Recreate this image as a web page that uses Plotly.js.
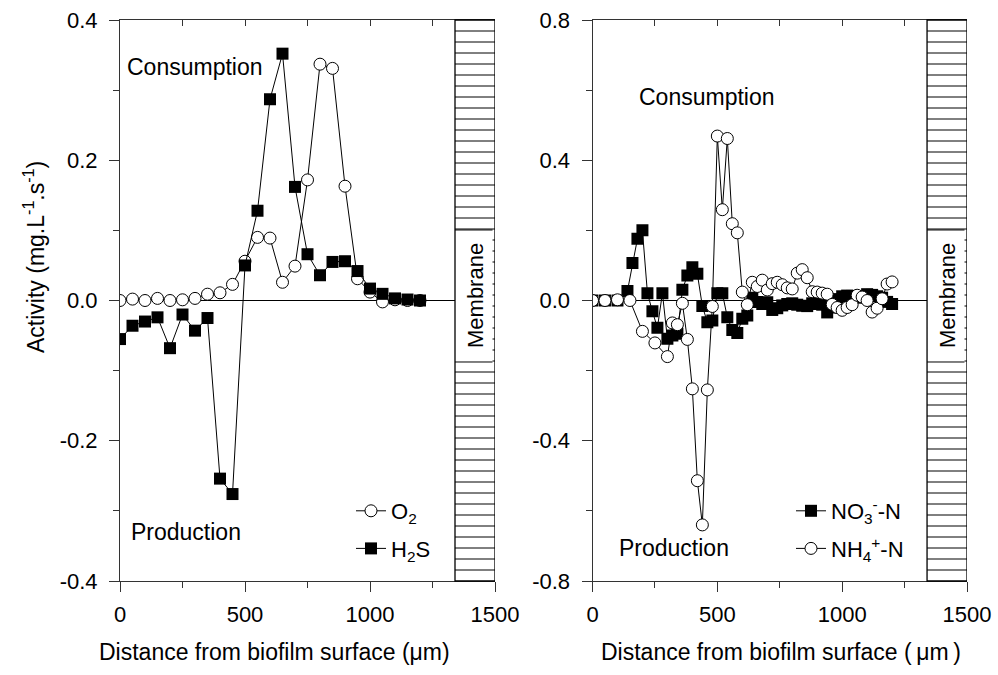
<!DOCTYPE html>
<html><head><meta charset="utf-8">
<script src="https://cdn.plot.ly/plotly-3.0.1.min.js"></script>
<style>html,body{margin:0;padding:0;background:#fff}#chart{width:998px;height:675px}</style>
</head><body><div id="chart"></div>
<script>
// ---- Left panel data (O2 / H2S) ----
const xLeft = [0,50,100,150,200,250,300,350,400,450,500,550,600,650,700,750,800,850,900,950,1000,1050,1100,1150,1200];
const o2 = [0.000,0.002,0.000,0.003,0.000,0.001,0.003,0.009,0.011,0.023,0.056,0.090,0.089,0.026,0.049,0.172,0.337,0.331,0.163,0.031,0.012,-0.002,0.001,0.000,0.000];
const h2s = [-0.055,-0.036,-0.030,-0.024,-0.068,-0.020,-0.043,-0.025,-0.254,-0.276,0.050,0.128,0.287,0.352,0.162,0.066,0.036,0.055,0.056,0.042,0.017,0.0095,0.003,0.0014,0.000];

// ---- Right panel data (NO3- / NH4+) ----
const xNO3 = [0,50,100,140,160,180,200,220,240,260,280,300,320,340,360,380,400,420,440,460,480,500,520,540,560,580,
  600,620,640,660,680,700,720,740,760,780,800,820,840,860,880,900,920,940,960,980,1000,1020,1040,1060,1080,1100,1120,1140,1160,1180,1200];
const no3 = [0,0,0,0.027,0.107,0.176,0.200,0.021,-0.031,-0.078,0.021,-0.109,-0.100,-0.095,0.031,0.071,0.095,0.076,-0.016,-0.062,-0.057,0.021,0.021,-0.048,-0.084,-0.093,
  -0.052,-0.043,0.008,-0.004,-0.010,-0.005,-0.027,-0.022,-0.014,-0.010,-0.008,-0.012,-0.015,-0.016,-0.008,-0.010,-0.012,-0.034,-0.020,0.004,0.012,0.014,0.013,0.008,0.012,0.018,0.016,0.012,0.008,-0.004,-0.010];
const xNH4 = [0,50,100,150,200,250,300,320,340,360,380,400,420,440,460,480,500,520,540,560,580,
  600,620,640,660,680,700,720,740,760,780,800,820,840,860,880,900,920,940,960,980,1000,1020,1040,1060,1080,1100,1120,1140,1160,1180,1200];
const nh4 = [0,0,0.002,0,-0.088,-0.121,-0.160,-0.064,-0.069,-0.008,-0.111,-0.252,-0.514,-0.640,-0.255,-0.017,0.469,0.259,0.462,0.219,0.193,
  0.024,-0.012,0.052,0.040,0.058,0.030,0.048,0.052,0.045,0.036,0.033,0.078,0.088,0.065,0.025,0.024,0.021,0.018,-0.011,-0.020,-0.028,-0.020,-0.012,0.015,0.010,0.000,-0.033,-0.022,0.005,0.047,0.053];

// tick labels
const xTicks = [0,500,1000,1500];
const yTicksLeft = [-0.4,-0.2,0.0,0.2,0.4];
const yTickTextLeft = ['-0.4','-0.2','0.0','0.2','0.4'];
const yTicksRight = [-0.8,-0.4,0.0,0.4,0.8];
const yTickTextRight = ['-0.8','-0.4','0.0','0.4','0.8'];

const FONT = '"Liberation Sans", Arial, Helvetica, sans-serif';
const W = 998, H = 675;
const px = v => v / W, py = v => 1 - v / H;

const lineStyle = {color:'#000', width:1};
const sq = {symbol:'square', size:12, color:'#000', line:{width:0}};
const circ = {symbol:'circle', size:12, color:'#fff', line:{color:'#000', width:1}};

const traces = [
  {x:xLeft, y:o2, name:'O<sub>2</sub>', mode:'lines+markers', line:lineStyle, marker:circ, xaxis:'x', yaxis:'y', legend:'legend', legendgroup:'a'},
  {x:xLeft, y:h2s, name:'H<sub>2</sub>S', mode:'lines+markers', line:lineStyle, marker:sq, xaxis:'x', yaxis:'y', legend:'legend', legendgroup:'b'},
  {x:xNO3, y:no3, name:'NO<sub>3</sub><sup>-</sup>-N', mode:'lines+markers', line:lineStyle, marker:sq, xaxis:'x2', yaxis:'y2', legend:'legend2', legendgroup:'c'},
  {x:xNH4, y:nh4, name:'NH<sub>4</sub><sup>+</sup>-N', mode:'lines+markers', line:lineStyle, marker:circ, xaxis:'x2', yaxis:'y2', legend:'legend2', legendgroup:'d'}
];

const axCol = '#333';
const domL = [px(120), px(495)];
const domR = [px(592.5), px(967)];
const domY = [py(581), py(20)];

function xBottom(dom, anchor){
  return {domain:dom, anchor:anchor, range:[0,1500], tickmode:'array', tickvals:xTicks, ticktext:xTicks.map(String),
    ticks:'outside', ticklen:10, tickwidth:1, tickcolor:axCol, showline:true, linecolor:axCol, linewidth:1,
    showgrid:false, zeroline:false, fixedrange:true, ticklabelstandoff:4,
    minor:{dtick:250, tick0:0, ticks:'outside', ticklen:6, tickcolor:axCol, showgrid:false},
    tickfont:{family:FONT, size:22, color:'#000'}};
}
function xTop(over, anchor){
  return {overlaying:over, anchor:anchor, side:'top', range:[0,1500], dtick:250, tick0:0, ticks:'inside', ticklen:6,
    tickcolor:axCol, showticklabels:false, showline:true, linecolor:axCol, linewidth:1, showgrid:false, zeroline:false, fixedrange:true};
}
function yAx(anchor, rng, tv, tt, minorD){
  return {domain:domY, anchor:anchor, range:rng, tickmode:'array', tickvals:tv, ticktext:tt,
    ticks:'outside', ticklen:10, tickwidth:1, tickcolor:axCol, showline:true, linecolor:axCol, linewidth:1,
    showgrid:false, zeroline:false, fixedrange:true, ticklabelstandoff:7,
    minor:{dtick:minorD, tick0:0, ticks:'outside', ticklen:6, tickcolor:axCol, showgrid:false},
    tickfont:{family:FONT, size:22, color:'#000'}};
}

// membrane decoration (hatched box) for both panels
const shapes = [];
function membrane(xr, yr){
  const n = 51;
  for (let k = 1; k < n; k++){
    shapes.push({type:'line', xref:xr, yref:yr+' domain', x0:1340, x1:1500, y0:k/n, y1:k/n, line:{color:'#000', width:1}, layer:'above'});
  }
  shapes.push({type:'rect', xref:xr, yref:yr+' domain', x0:1340, x1:1490, y0:0.3904, y1:0.6257, fillcolor:'#fff', line:{width:0}, layer:'above'});
  shapes.push({type:'line', xref:xr, yref:yr+' domain', x0:1340, x1:1490, y0:0.3904, y1:0.3904, line:{color:'#000', width:1}, layer:'above'});
  shapes.push({type:'line', xref:xr, yref:yr+' domain', x0:1340, x1:1490, y0:0.6257, y1:0.6257, line:{color:'#000', width:1}, layer:'above'});
  shapes.push({type:'rect', xref:xr, yref:yr+' domain', x0:1340, x1:1500, y0:0, y1:1, line:{color:'#000', width:1.3}, layer:'above'});
  shapes.push({type:'line', xref:xr, yref:yr, x0:0, x1:1340, y0:0, y1:0, line:{color:'#000', width:1}, layer:'below'});
}
membrane('x','y');
membrane('x2','y2');

const annFont = {family:FONT, size:23, color:'#000'};
const annotations = [
  {xref:'paper', yref:'paper', x:px(125), y:py(67), xanchor:'left', yanchor:'middle', text:'Consumption', showarrow:false, font:annFont},
  {xref:'paper', yref:'paper', x:px(129), y:py(532), xanchor:'left', yanchor:'middle', text:'Production', showarrow:false, font:annFont},
  {xref:'paper', yref:'paper', x:px(637), y:py(97), xanchor:'left', yanchor:'middle', text:'Consumption', showarrow:false, font:annFont},
  {xref:'paper', yref:'paper', x:px(617), y:py(548), xanchor:'left', yanchor:'middle', text:'Production', showarrow:false, font:annFont},
  {xref:'x', yref:'y domain', x:1420, y:0.508, xanchor:'center', yanchor:'middle', text:'Membrane', textangle:-90, showarrow:false, font:{family:FONT, size:22, color:'#000'}},
  {xref:'x2', yref:'y2 domain', x:1420, y:0.508, xanchor:'center', yanchor:'middle', text:'Membrane', textangle:-90, showarrow:false, font:{family:FONT, size:22, color:'#000'}},
  {xref:'paper', yref:'paper', x:px(274), y:py(652), xanchor:'center', yanchor:'middle', text:'Distance from biofilm surface (μm)', showarrow:false, font:annFont},
  {xref:'paper', yref:'paper', x:px(781), y:py(652), xanchor:'center', yanchor:'middle', text:'Distance from biofilm surface (\u2009μm\u2009)', showarrow:false, font:annFont},
  {xref:'paper', yref:'paper', x:px(34), y:py(257), xanchor:'center', yanchor:'middle', text:'Activity (mg.L<sup>-1</sup>.s<sup>-1</sup>)', textangle:-90, showarrow:false, font:annFont}
];

const legFont = {family:FONT, size:22, color:'#000'};
const layout = {
  width:W, height:H, margin:{l:0, r:0, t:0, b:0},
  paper_bgcolor:'#fff', plot_bgcolor:'#fff',
  showlegend:true,
  xaxis: xBottom(domL, 'y'),
  yaxis: yAx('x', [-0.4,0.4], yTicksLeft, yTickTextLeft, 0.1),
  xaxis3: xTop('x', 'y'),
  xaxis2: xBottom(domR, 'y2'),
  yaxis2: yAx('x2', [-0.8,0.8], yTicksRight, yTickTextRight, 0.2),
  xaxis4: xTop('x2', 'y2'),
  legend: {x:px(351), y:py(490), xanchor:'left', yanchor:'top', bgcolor:'rgba(0,0,0,0)', borderwidth:0, font:legFont, tracegroupgap:6, traceorder:'grouped', itemwidth:30},
  legend2: {x:px(791), y:py(490), xanchor:'left', yanchor:'top', bgcolor:'rgba(0,0,0,0)', borderwidth:0, font:legFont, tracegroupgap:6, traceorder:'grouped', itemwidth:30},
  shapes: shapes,
  annotations: annotations,
  font:{family:FONT, color:'#000'}
};
// dummy traces to activate the top overlay axes
traces.push({x:[], y:[], xaxis:'x3', yaxis:'y', showlegend:false, hoverinfo:'skip'});
traces.push({x:[], y:[], xaxis:'x4', yaxis:'y2', showlegend:false, hoverinfo:'skip'});

Plotly.newPlot('chart', traces, layout, {staticPlot:true, displayModeBar:false});
</script></body></html>
